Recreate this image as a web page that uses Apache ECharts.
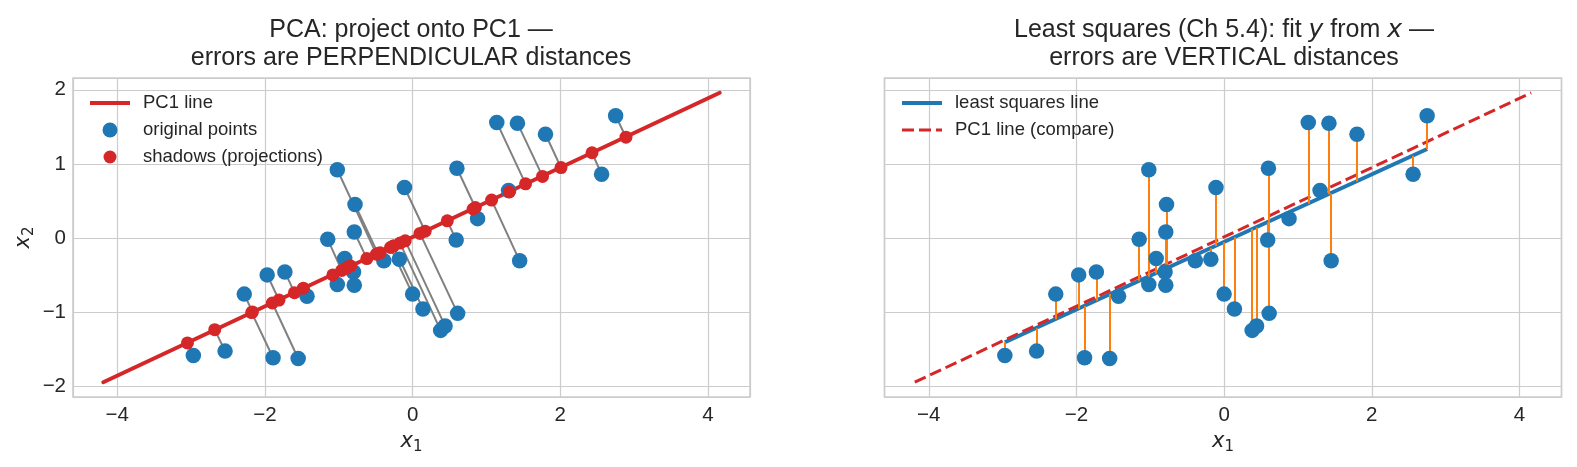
<!DOCTYPE html>
<html>
<head>
<meta charset="utf-8">
<script src="https://cdn.jsdelivr.net/npm/echarts@6/dist/echarts.min.js"></script>
<style>
  html, body { margin: 0; padding: 0; background: #fff; }
  #chart { width: 1577px; height: 467px; }
</style>
</head>
<body>
<div id="chart"></div>
<script>
// original points
var ptX = [-1.02, -0.11, -0.78, -0.79, -1.15, -0.92, -0.80, -1.02, -0.79, -0.39, -0.18, 0.00,
  -1.97, -1.73, -2.28, -1.43, -2.97, -2.54, -1.89, -1.55,
  2.75, 1.14, 1.42, 1.80, 0.60, 2.56, 1.30, 0.88, 0.59, 1.45, 0.14, 0.61, 0.38, 0.44];
var ptY = [0.92, 0.68, 0.45, 0.08, -0.02, -0.28, -0.46, -0.63, -0.64, -0.31, -0.29, -0.76,
  -0.50, -0.46, -0.76, -0.79, -1.59, -1.53, -1.62, -1.63,
  1.65, 1.56, 1.55, 1.40, 0.94, 0.86, 0.64, 0.26, -0.03, -0.31, -0.96, -1.02, -1.25, -1.19];
// shadows on PC1 (red dots), one per point
var shX = [-0.49, 0.17, -0.47, -0.62, -0.96, -0.87, -0.84, -1.08, -0.90, -0.44, -0.26, -0.30,
  -1.81, -1.60, -2.17, -1.48, -3.05, -2.68, -2.18, -1.90,
  2.89, 1.53, 1.76, 2.01, 0.85, 2.43, 1.31, 0.82, 0.47, 1.07, -0.26, 0.10, -0.17, -0.10];
var shY = [-0.22, 0.09, -0.21, -0.28, -0.44, -0.39, -0.38, -0.50, -0.41, -0.20, -0.11, -0.13,
  -0.84, -0.74, -1.00, -0.68, -1.42, -1.24, -1.01, -0.88,
  1.36, 0.73, 0.83, 0.95, 0.41, 1.15, 0.62, 0.39, 0.23, 0.51, -0.11, 0.06, -0.07, -0.04];
// least squares value at each point's x (end of the orange bars)
var fitY = [-0.52, -0.11, -0.41, -0.42, -0.58, -0.48, -0.42, -0.52, -0.42, -0.24, -0.14, -0.06,
  -0.96, -0.85, -1.10, -0.71, -1.41, -1.22, -0.92, -0.76,
  1.20, 0.46, 0.59, 0.76, 0.22, 1.11, 0.54, 0.34, 0.21, 0.60, 0.01, 0.22, 0.12, 0.14];
// lines
var pc1X = [-4.19, 4.16];
var pc1Y = [-1.95, 1.96];
var lsX = [-2.97, 2.75];
var lsY = [-1.41, 1.20];
// axis ranges
var xRange = [-4.6, 4.57];
var yRange = [-2.15, 2.16];

var FONT = '"Liberation Sans", Arial, sans-serif';
var INK = '#262626';
var GRIDC = '#cccccc';
var BLUE = '#1f77b4', RED = '#d62728', ORANGE = '#ff7f0e';

function pairs(xs, ys) {
  return xs.map(function (x, i) { return [x, ys[i]]; });
}
function minus(v) {
  return v < 0 ? '\u2212' + (-v) : String(v);
}
var mathRich = {
  i: { fontFamily: 'DejaVu Sans', fontStyle: 'italic', fontSize: 21, color: INK, lineHeight: 26 },
  s: { fontFamily: 'DejaVu Sans', fontSize: 15, color: INK, lineHeight: 18, verticalAlign: 'bottom' }
};

function xAxis(idx) {
  return {
    gridIndex: idx, type: 'value', min: xRange[0], max: xRange[1],
    minInterval: 2, maxInterval: 2,
    name: '{i|x}{s|1}', nameLocation: 'middle', nameGap: 26,
    nameTextStyle: { rich: mathRich },
    axisLine: { show: false }, axisTick: { show: false },
    axisLabel: { showMinLabel: false, showMaxLabel: false, margin: 8, color: INK,
      fontSize: 20.5, fontFamily: FONT, formatter: minus },
    splitLine: { lineStyle: { color: GRIDC, width: 1.2 } }
  };
}
function yAxis(idx, labels) {
  return {
    gridIndex: idx, type: 'value', min: yRange[0], max: yRange[1],
    minInterval: 1, maxInterval: 1,
    name: labels ? '{i|x}{s|2}' : '', nameLocation: 'middle', nameGap: 36,
    nameTextStyle: { rich: mathRich },
    axisLine: { show: false }, axisTick: { show: false },
    axisLabel: { show: labels, showMinLabel: false, showMaxLabel: false, margin: 7, color: INK,
      fontSize: 20.5, fontFamily: FONT, formatter: minus },
    splitLine: { lineStyle: { color: GRIDC, width: 1.2 } }
  };
}

var titleRich = {
  n: { fontFamily: FONT, fontSize: 25, fontWeight: 'normal', color: INK, lineHeight: 28, align: 'center' },
  i: { fontFamily: 'DejaVu Sans', fontStyle: 'italic', fontWeight: 'normal', fontSize: 25, color: INK,
    lineHeight: 28, align: 'center' }
};

var legendText = { fontFamily: FONT, fontSize: 18.5, color: INK, lineHeight: 22, padding: [0, 0, 0, 8] };
var lineIcon = 'path://M0,0L40,0L40,4L0,4Z';
var dashIcon = 'path://M0,0h12v3h-12zM17,0h12v3h-12zM34,0h6v3h-6z';
var smallDot = 'path://M0,0M15,15M1,7.5a6.5,6.5 0 1 1 13,0a6.5,6.5 0 1 1 -13,0z';

var chart = echarts.init(document.getElementById('chart'));
chart.setOption({
  animation: false,
  backgroundColor: '#fff',
  title: [{
    text: '{n|PCA: project onto PC1 \u2014}\n{n|errors are PERPENDICULAR distances}',
    left: 411, top: 16, padding: 0, textAlign: 'center',
    textStyle: { fontWeight: 'normal', rich: titleRich }
  }, {
    text: '{n|Least squares (Ch 5.4): fit }{i|y}{n| from }{i|x}{n| \u2014}\n{n|errors are VERTICAL distances}',
    left: 1224, top: 16, padding: 0, textAlign: 'center',
    textStyle: { fontWeight: 'normal', rich: titleRich }
  }],
  legend: [{
    left: 90, top: 92, padding: 0, orient: 'vertical', itemWidth: 40, itemHeight: 15, itemGap: 5,
    symbolKeepAspect: true, selectedMode: false, textStyle: legendText,
    itemStyle: { borderWidth: 0 },
    data: [
      { name: 'PC1 line', icon: lineIcon, itemStyle: { color: RED } },
      { name: 'original points', icon: 'circle', itemStyle: { color: BLUE } },
      { name: 'shadows (projections)', icon: smallDot, itemStyle: { color: RED } }
    ]
  }, {
    left: 902, top: 92, padding: 0, orient: 'vertical', itemWidth: 40, itemHeight: 15, itemGap: 5,
    symbolKeepAspect: true, selectedMode: false, textStyle: legendText,
    itemStyle: { borderWidth: 0 },
    data: [
      { name: 'least squares line', icon: lineIcon, itemStyle: { color: BLUE } },
      { name: 'PC1 line (compare)', icon: dashIcon, itemStyle: { color: RED } }
    ]
  }],
  grid: [
    { left: 73, top: 78, width: 677, height: 319, show: true, borderColor: GRIDC, borderWidth: 1.6 },
    { left: 884.5, top: 78, width: 677, height: 319, show: true, borderColor: GRIDC, borderWidth: 1.6 }
  ],
  xAxis: [xAxis(0), xAxis(1)],
  yAxis: [yAxis(0, true), yAxis(1, false)],
  series: [
    // left panel
    {
      name: 'perp', type: 'lines', coordinateSystem: 'cartesian2d', xAxisIndex: 0, yAxisIndex: 0,
      data: ptX.map(function (x, i) { return { coords: [[x, ptY[i]], [shX[i], shY[i]]] }; }),
      lineStyle: { color: '#808080', width: 2, opacity: 1 }, silent: true, z: 1
    },
    {
      name: 'PC1 line', type: 'line', xAxisIndex: 0, yAxisIndex: 0, data: pairs(pc1X, pc1Y),
      showSymbol: false, symbol: 'none', color: RED, itemStyle: { color: RED },
      lineStyle: { color: RED, width: 4, cap: 'round' }, silent: true, z: 2
    },
    {
      name: 'original points', type: 'scatter', xAxisIndex: 0, yAxisIndex: 0, data: pairs(ptX, ptY),
      symbolSize: 15.5, itemStyle: { color: BLUE, opacity: 1 }, silent: true, z: 3
    },
    {
      name: 'shadows (projections)', type: 'scatter', xAxisIndex: 0, yAxisIndex: 0, data: pairs(shX, shY),
      symbolSize: 13, itemStyle: { color: RED, opacity: 1 }, silent: true, z: 4
    },
    // right panel
    {
      name: 'least squares line', type: 'line', xAxisIndex: 1, yAxisIndex: 1, data: pairs(lsX, lsY),
      showSymbol: false, symbol: 'none', color: BLUE, itemStyle: { color: BLUE },
      lineStyle: { color: BLUE, width: 4 }, silent: true, z: 1
    },
    {
      name: 'PC1 line (compare)', type: 'line', xAxisIndex: 1, yAxisIndex: 1, data: pairs(pc1X, pc1Y),
      showSymbol: false, symbol: 'none', color: RED, itemStyle: { color: RED },
      lineStyle: { color: RED, width: 3, type: [12, 5] }, silent: true, z: 2
    },
    {
      name: 'vert', type: 'lines', coordinateSystem: 'cartesian2d', xAxisIndex: 1, yAxisIndex: 1,
      data: ptX.map(function (x, i) { return { coords: [[x, ptY[i]], [x, fitY[i]]] }; }),
      lineStyle: { color: ORANGE, width: 2, opacity: 1 }, silent: true, z: 3
    },
    {
      name: 'points', type: 'scatter', xAxisIndex: 1, yAxisIndex: 1, data: pairs(ptX, ptY),
      symbolSize: 15.5, itemStyle: { color: BLUE, opacity: 1 }, silent: true, z: 4
    }
  ]
});
</script>
</body>
</html>
